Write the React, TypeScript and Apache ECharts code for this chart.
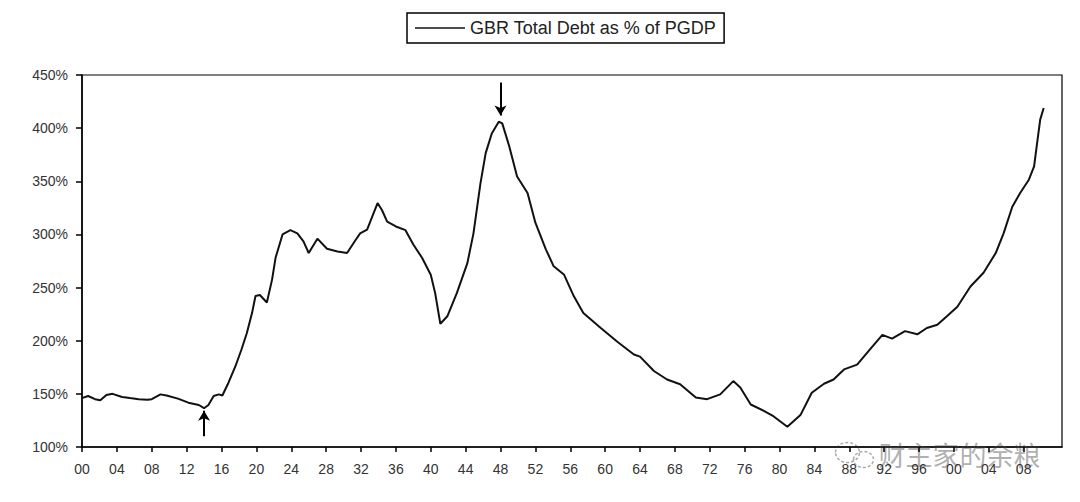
import React, { useEffect, useRef } from "react";
import * as echarts from "echarts";

const seriesName = "GBR Total Debt as % of PGDP";

const years: number[] = [
  1900.0, 1900.7, 1901.5, 1902.1, 1902.8, 1903.5, 1904.6, 1905.5, 1906.5, 1907.5,
  1908.0, 1909.0, 1909.7, 1911.0, 1912.2, 1913.4, 1914.0, 1914.5, 1915.1, 1915.7,
  1916.1, 1916.8, 1917.6, 1918.3, 1918.9, 1919.5, 1919.9, 1920.4, 1921.2, 1921.8,
  1922.2, 1923.0, 1923.9, 1924.7, 1925.4, 1926.0, 1927.0, 1928.1, 1929.3, 1930.4,
  1931.4, 1931.9, 1932.7, 1933.9, 1934.4, 1935.0, 1936.0, 1937.1, 1938.0, 1939.0,
  1940.0, 1940.5, 1941.1, 1941.9, 1943.0, 1944.2, 1944.9, 1945.7, 1946.3, 1947.0,
  1947.8, 1948.2, 1949.0, 1949.9, 1951.1, 1952.0, 1953.2, 1954.1, 1955.3, 1956.4,
  1957.5, 1959.5, 1961.4, 1963.3, 1964.0, 1965.6, 1967.1, 1968.6, 1970.4, 1971.7,
  1973.2, 1974.7, 1975.5, 1976.7, 1978.2, 1979.3, 1980.9, 1982.4, 1983.7, 1985.1,
  1986.2, 1987.4, 1988.9, 1990.4, 1991.8, 1992.9, 1994.4, 1995.8, 1996.9, 1998.1,
  1999.2, 2000.4, 2001.9, 2003.4, 2004.8, 2005.7, 2006.7, 2007.6, 2008.6, 2009.2,
  2009.5, 2009.9, 2010.3,
];

const debtPct: number[] = [
  146, 148, 145, 144, 149, 150, 147, 146, 145, 144.5,
  145, 149.5, 148.5, 145.5, 141.7, 139.5, 136.5, 139.5, 148, 149.5,
  148.5, 160.5, 176, 192, 207, 226, 242, 243, 236, 257.5,
  278, 300, 304, 301, 293.5, 282.5, 296, 286.5, 284, 282.5,
  295, 301, 304.5, 329.5, 323, 312, 307.5, 304, 290.5, 278,
  262, 245, 216, 223, 245, 273, 301, 348, 376.5, 395,
  406, 404.5, 383, 354.5, 339, 311, 286, 270, 262, 242,
  226, 212, 199, 187, 185, 171.5, 163.5, 159, 146.5, 145,
  149.5, 162, 156, 140, 134, 129, 119, 130, 151, 159.5,
  163.5, 173, 177.5, 192, 205.5, 202, 209, 206, 212, 215,
  223, 232, 251, 264, 282.5, 301, 326, 339, 351.5, 364,
  383, 408, 419,
];

const tickYears: number[] = [
  1900, 1904, 1908, 1912, 1916, 1920, 1924, 1928, 1932, 1936, 1940, 1944, 1948, 1952,
  1956, 1960, 1964, 1968, 1972, 1976, 1980, 1984, 1988, 1992, 1996, 2000, 2004, 2008,
];

// annotation arrows: [year, from value, to value]
const arrowYears: number[] = [1914, 1948];
const arrowFrom: number[] = [110, 443];
const arrowTo: number[] = [134, 412];

const watermark = "财主家的余粮";

const FONT = "'Liberation Sans', Arial, sans-serif";

export default function App() {
  const ref = useRef<HTMLDivElement>(null);

  useEffect(() => {
    if (!ref.current) return;
    const chart = echarts.init(ref.current, undefined, { renderer: "svg" });
    const data = years.map((y, i) => [y, debtPct[i]]);
    const arrows = arrowYears.map((y, i) => [
      { coord: [y, arrowFrom[i]] },
      { coord: [y, arrowTo[i]] },
    ]);

    chart.setOption({
      animation: false,
      backgroundColor: "#ffffff",
      textStyle: { fontFamily: FONT },
      legend: {
        left: 407,
        top: 13,
        padding: [6, 8, 6, 8],
        borderColor: "#000",
        borderWidth: 1.5,
        itemWidth: 50,
        itemHeight: 14,
        itemGap: 4,
        textStyle: { fontFamily: FONT, fontSize: 18, color: "#222" },
        data: [{ name: seriesName, icon: "path://M0,6 L50,6 L50,7.5 L0,7.5 Z" }],
      },
      grid: {
        left: 82,
        right: 18,
        top: 75,
        bottom: 55,
        show: true,
        borderColor: "#000",
        borderWidth: 1.2,
      },
      xAxis: {
        type: "value",
        min: 1900,
        max: 2012.4,
        splitLine: { show: false },
        axisLine: { show: true, lineStyle: { color: "#000", width: 1.5 } },
        axisTick: {
          show: true,
          inside: false,
          length: 5,
          lineStyle: { color: "#000", width: 1.5 },
          customValues: tickYears,
        },
        axisLabel: {
          customValues: tickYears,
          margin: 15,
          fontSize: 14,
          color: "#333",
          fontFamily: FONT,
          formatter: (v: number) => String(Math.round(v) % 100).padStart(2, "0"),
        },
      },
      yAxis: {
        type: "value",
        min: 100,
        max: 450,
        interval: 50,
        splitLine: { show: false },
        axisLine: { show: true, lineStyle: { color: "#000", width: 1.5 } },
        axisTick: { show: true, inside: false, length: 6, lineStyle: { color: "#000", width: 1.5 } },
        axisLabel: {
          margin: 14,
          fontSize: 14,
          color: "#333",
          fontFamily: FONT,
          formatter: (v: number) => `${v}%`,
        },
      },
      series: [
        {
          name: seriesName,
          type: "line",
          data,
          symbol: "none",
          lineStyle: { color: "#111", width: 2 },
          itemStyle: { color: "#111" },
          markLine: {
            silent: true,
            symbol: ["none", "arrow"],
            symbolSize: [9, 10],
            label: { show: false },
            lineStyle: { color: "#000", width: 2, type: "solid" },
            emphasis: { disabled: true },
            data: arrows,
          },
        },
      ],
      graphic: [
        {
          type: "group",
          left: 833,
          top: 440,
          silent: true,
          children: [
            {
              type: "ellipse",
              shape: { cx: 14, cy: 12, rx: 12, ry: 10 },
              style: { fill: "none", stroke: "#aaa", lineWidth: 1.5, lineDash: [3, 2] },
            },
            {
              type: "ellipse",
              shape: { cx: 30, cy: 19, rx: 10, ry: 8 },
              style: { fill: "none", stroke: "#aaa", lineWidth: 1.5, lineDash: [3, 2] },
            },
            {
              type: "text",
              x: 45,
              y: 0,
              style: {
                text: watermark,
                fontSize: 27,
                fontFamily: "'Noto Sans CJK SC', sans-serif",
                fill: "rgba(150,150,150,0.75)",
                stroke: "#fff",
                lineWidth: 1,
              },
            },
          ],
        },
      ],
    });

    return () => chart.dispose();
  }, []);

  return (
    <div
      ref={ref}
      style={{ position: "fixed", left: 0, top: 0, width: 1080, height: 502 }}
    />
  );
}
